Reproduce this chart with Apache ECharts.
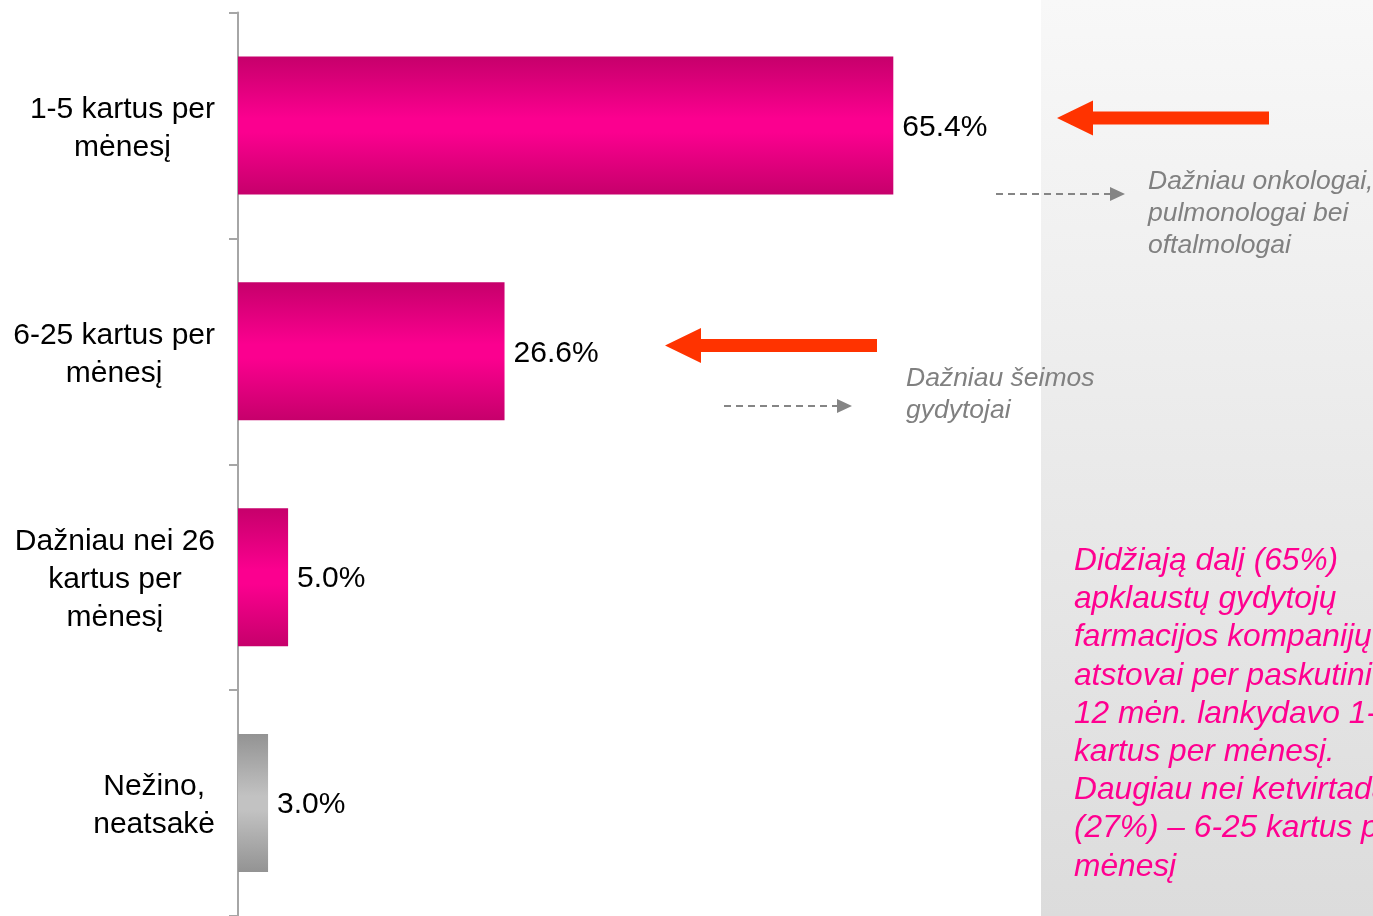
<!DOCTYPE html>
<html>
<head>
<meta charset="utf-8">
<script src="https://cdn.jsdelivr.net/npm/echarts@6/dist/echarts.min.js"></script>
<style>
  html, body { margin: 0; padding: 0; background: #ffffff; }
  #chart { width: 1373px; height: 916px; }
</style>
</head>
<body>
<div id="chart"></div>
<script>
// Visit frequency categories (top to bottom)
const categories = [
  '1-5 kartus per\nmėnesį',
  '6-25 kartus per\nmėnesį',
  'Dažniau nei 26\nkartus per\nmėnesį',
  'Nežino,\nneatsakė'
];
// Share of respondents, %
const shares = [65.4, 26.6, 5.0, 3.0];
// Which bars are "no answer" (drawn grey)
const isNoAnswer = [false, false, false, true];

const noteSpecialists = 'Dažniau onkologai,\npulmonologai bei\noftalmologai';
const noteFamily = 'Dažniau šeimos\ngydytojai';
const summaryText = [
  'Didžiają dalį (65%)',
  'apklaustų gydytojų',
  'farmacijos kompanijų',
  'atstovai per paskutinius',
  '12 mėn. lankydavo 1-5',
  'kartus per mėnesį.',
  'Daugiau nei ketvirtadalį',
  '(27%) – 6-25 kartus per',
  'mėnesį'
].join('\n');

const FONT = '"Liberation Sans", Arial, sans-serif';

function vGrad(edge, mid) {
  return new echarts.graphic.LinearGradient(0, 0, 0, 1, [
    { offset: 0, color: edge },
    { offset: 0.45, color: mid },
    { offset: 0.55, color: mid },
    { offset: 1, color: edge }
  ]);
}

const barData = shares.map((v, i) => ({
  value: v,
  itemStyle: {
    color: isNoAnswer[i] ? vGrad('#939393', '#c2c2c2') : vGrad('#c6006b', '#fb008f')
  }
}));

// Left-pointing solid arrow: tip at (tx, ty)
function solidArrow(tx, ty, headLen, headH, shaftEnd, shaftH) {
  return {
    type: 'polygon',
    z: 20,
    shape: {
      points: [
        [tx, ty],
        [tx + headLen, ty - headH / 2],
        [tx + headLen, ty - shaftH / 2],
        [shaftEnd, ty - shaftH / 2],
        [shaftEnd, ty + shaftH / 2],
        [tx + headLen, ty + shaftH / 2],
        [tx + headLen, ty + headH / 2]
      ]
    },
    style: { fill: '#ff3300' }
  };
}

// Right-pointing dashed arrow from x0 to tip x1
function dashedArrow(x0, x1, y) {
  const head = 15;
  return [
    {
      type: 'line', z: 20,
      shape: { x1: x0, y1: y, x2: x1 - head, y2: y },
      style: { stroke: '#858585', lineWidth: 2, lineDash: [7, 5] }
    },
    {
      type: 'polygon', z: 20,
      shape: { points: [[x1, y], [x1 - head, y - 7], [x1 - head, y + 7]] },
      style: { fill: '#858585' }
    }
  ];
}

const chart = echarts.init(document.getElementById('chart'), null, { renderer: 'canvas' });

chart.setOption({
  animation: false,
  backgroundColor: '#ffffff',
  grid: { left: 238, top: 12.5, width: 1002, height: 907, containLabel: false },
  xAxis: {
    type: 'value', min: 0, max: 100, show: false
  },
  yAxis: {
    type: 'category',
    inverse: true,
    data: categories,
    axisLine: { show: true, lineStyle: { color: '#a6a6a6', width: 2 } },
    axisTick: { show: true, length: 9, lineStyle: { color: '#a6a6a6', width: 2 } },
    axisLabel: {
      align: 'right',
      margin: 23,
      padding: [6, 0, 0, 0],
      formatter: (v) => v.split('\n').map(s => '{c|' + s + '}').join('\n'),
      rich: {
        c: { align: 'center', fontFamily: FONT, fontSize: 30, lineHeight: 38, color: '#000000' }
      }
    },
    splitLine: { show: false }
  },
  series: [{
    type: 'bar',
    barWidth: 138,
    data: barData,
    label: {
      show: true,
      position: 'right',
      distance: 9,
      offset: [0, 2],
      fontFamily: FONT,
      fontSize: 30,
      color: '#000000',
      formatter: (p) => p.value.toFixed(1) + '%'
    }
  }],
  graphic: [
    {
      type: 'rect', z: -10, silent: true,
      shape: { x: 1041, y: 0, width: 332, height: 916 },
      style: {
        fill: new echarts.graphic.LinearGradient(0, 0, 0, 1, [
          { offset: 0, color: '#f8f8f8' },
          { offset: 1, color: '#dcdcdc' }
        ])
      }
    },
    solidArrow(1057, 118, 36, 35, 1269, 13),
    solidArrow(665, 345.5, 36, 35, 877, 13),
    ...dashedArrow(996, 1125, 194),
    ...dashedArrow(724, 852, 406),
    {
      type: 'text', z: 20, x: 1148, y: 166,
      style: {
        text: noteSpecialists, fill: '#808080',
        font: 'italic 26.5px ' + FONT, lineHeight: 32, verticalAlign: 'top'
      }
    },
    {
      type: 'text', z: 20, x: 906, y: 363,
      style: {
        text: noteFamily, fill: '#808080',
        font: 'italic 26.5px ' + FONT, lineHeight: 32, verticalAlign: 'top'
      }
    },
    {
      type: 'text', z: 20, x: 1074, y: 542,
      style: {
        text: summaryText, fill: '#ff0090',
        font: 'italic 31.7px ' + FONT, lineHeight: 38.2, verticalAlign: 'top'
      }
    }
  ]
});
</script>
</body>
</html>
